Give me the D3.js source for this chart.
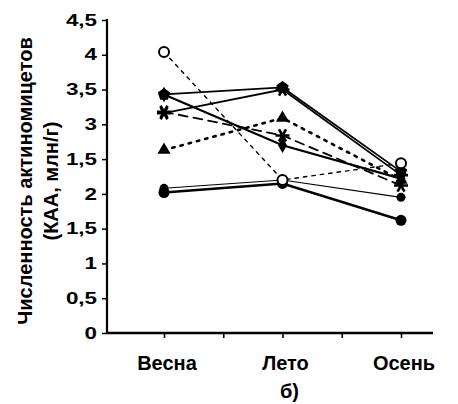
<!DOCTYPE html>
<html>
<head>
<meta charset="utf-8">
<script src="https://cdn.jsdelivr.net/npm/d3@7"></script>
<style>
  html, body { margin: 0; padding: 0; background: #fff; }
  svg text { font-family: "Liberation Sans", Arial, sans-serif; fill: #000; }
</style>
</head>
<body>
<svg id="chart" width="458" height="404"></svg>
<script>
// Seasons along the x axis
const seasons = ["Весна", "Лето", "Осень"];

// Y tick values and their printed labels
const yTickValues = [0, 0.5, 1, 1.5, 2, 2.5, 3, 3.5, 4, 4.5];
const yTickLabels = ["0", "0,5", "1", "1,5", "2", "1,5", "3", "3,5", "4", "4,5"];

// Actinomycete counts per plot (млн/г), spring / summer / autumn
const openCircle = [4.04, 2.20, 2.44];
const pentagon   = [3.43, 3.53, 2.32];
const diamond    = [3.43, 2.70, 2.22];
const crossStar  = [3.16, 3.50, 2.27];
const dashStar   = [3.18, 2.84, 2.12];
const triangle   = [2.63, 3.09, 2.20];
const thinLine   = [2.08, 2.20, 1.95];
const filledDot  = [2.02, 2.15, 1.62];

const series = [
  { values: thinLine,   marker: "dotSmall", width: 1.1, dash: null },
  { values: filledDot,  marker: "dot",      width: 2.6, dash: null },
  { values: triangle,   marker: "triangle", width: 2.6, dash: "2.5,6" },
  { values: dashStar,   marker: "star",     width: 1.8, dash: "9,6" },
  { values: diamond,    marker: "diamond",  width: 2.2, dash: null },
  { values: crossStar,  marker: "star",     width: 1.8, dash: null },
  { values: pentagon,   marker: "pentagon", width: 1.8, dash: null },
  { values: openCircle, marker: "open",     width: 1.4, dash: "3.5,5" }
];

const svg = d3.select("#chart");

const x = d3.scaleLinear().domain([0, 2]).range([164, 401]);
const y = d3.scaleLinear().domain([0, 4.5]).range([333, 20]);

// Axes
const labelStretch = 1.4;
const yAxis = d3.axisLeft(y)
  .tickValues(yTickValues)
  .tickFormat((d, i) => yTickLabels[i])
  .tickSize(5);

const gy = svg.append("g").attr("transform", "translate(107,0)").call(yAxis);
gy.select(".domain").attr("stroke-width", 2.2).attr("d", `M0,${y(4.5) - 1}V${y(0)}`);
gy.selectAll(".tick line").attr("stroke-width", 1.5);
gy.selectAll(".tick text")
  .attr("font-size", 16)
  .attr("font-weight", "bold")
  .attr("x", -10 / labelStretch)
  .attr("transform", `scale(${labelStretch},1)`)
  .style("font-family", "Liberation Sans, Arial, sans-serif");

const xAxis = d3.axisBottom(x)
  .tickValues([0, 0.5, 1, 1.5, 2])
  .tickFormat("")
  .tickSize(5);

const gx = svg.append("g").attr("transform", `translate(0,${y(0)})`).call(xAxis);
gx.select(".domain").attr("stroke-width", 2.4).attr("d", `M107,0H${x(2.27)}`);
gx.selectAll(".tick line").attr("stroke-width", 1.6);

// Season labels
svg.append("g").selectAll("text")
  .data(seasons)
  .join("text")
  .attr("x", (d, i) => x(i) + 3)
  .attr("y", 370)
  .attr("text-anchor", "middle")
  .attr("font-size", 20)
  .attr("font-weight", "bold")
  .text(d => d);

svg.append("text")
  .attr("x", x(1) + 7)
  .attr("y", 398)
  .attr("text-anchor", "middle")
  .attr("font-size", 20)
  .attr("font-weight", "bold")
  .text("б)");

// Y axis title, two lines
const title = svg.append("g").attr("transform", "translate(0,181) rotate(-90)");
title.append("text").attr("x", 0).attr("y", 32)
  .attr("text-anchor", "middle").attr("font-size", 20).attr("font-weight", "bold")
  .text("Численность актиномицетов");
title.append("text").attr("x", 0).attr("y", 58)
  .attr("text-anchor", "middle").attr("font-size", 20).attr("font-weight", "bold")
  .text("(КАА, млн/г)");

// Lines
const line = d3.line().x((d, i) => x(i)).y(d => y(d));

svg.append("g").selectAll("path")
  .data(series)
  .join("path")
  .attr("d", s => line(s.values))
  .attr("fill", "none")
  .attr("stroke", "#000")
  .attr("stroke-width", s => s.width)
  .attr("stroke-dasharray", s => s.dash)
  .attr("stroke-linecap", s => s.dash ? "round" : "butt");

// Marker shapes
function pentagonPath(r) {
  const pts = d3.range(5).map(k => {
    const a = -Math.PI / 2 + k * 2 * Math.PI / 5;
    return [r * Math.cos(a), r * Math.sin(a)];
  });
  return "M" + pts.join("L") + "Z";
}
function starPath(r) {
  let p = `M${-r},0H${r}`;
  [60, 120].forEach(deg => {
    const a = deg * Math.PI / 180;
    p += `M${-r * Math.cos(a)},${-r * Math.sin(a)}L${r * Math.cos(a)},${r * Math.sin(a)}`;
  });
  return p;
}

const markers = svg.append("g");
series.forEach(s => {
  s.values.forEach((v, i) => {
    const g = markers.append("g").attr("transform", `translate(${x(i)},${y(v)})`);
    switch (s.marker) {
      case "dot":
        g.append("circle").attr("r", 5.5).attr("fill", "#000");
        break;
      case "dotSmall":
        g.append("circle").attr("r", 4.5).attr("fill", "#000");
        break;
      case "open":
        g.append("circle").attr("r", 5).attr("fill", "#fff").attr("stroke", "#000").attr("stroke-width", 2);
        break;
      case "triangle":
        g.append("path").attr("d", d3.symbol(d3.symbolTriangle, 75)()).attr("fill", "#000");
        break;
      case "diamond":
        g.append("path").attr("d", d3.symbol(d3.symbolDiamond, 70)()).attr("fill", "#000");
        break;
      case "pentagon":
        g.append("path").attr("d", pentagonPath(6.5)).attr("fill", "#000");
        break;
      case "star":
        g.append("path").attr("d", starPath(7)).attr("stroke", "#000").attr("stroke-width", 2.6).attr("fill", "none");
        break;
    }
  });
});
</script>
</body>
</html>
